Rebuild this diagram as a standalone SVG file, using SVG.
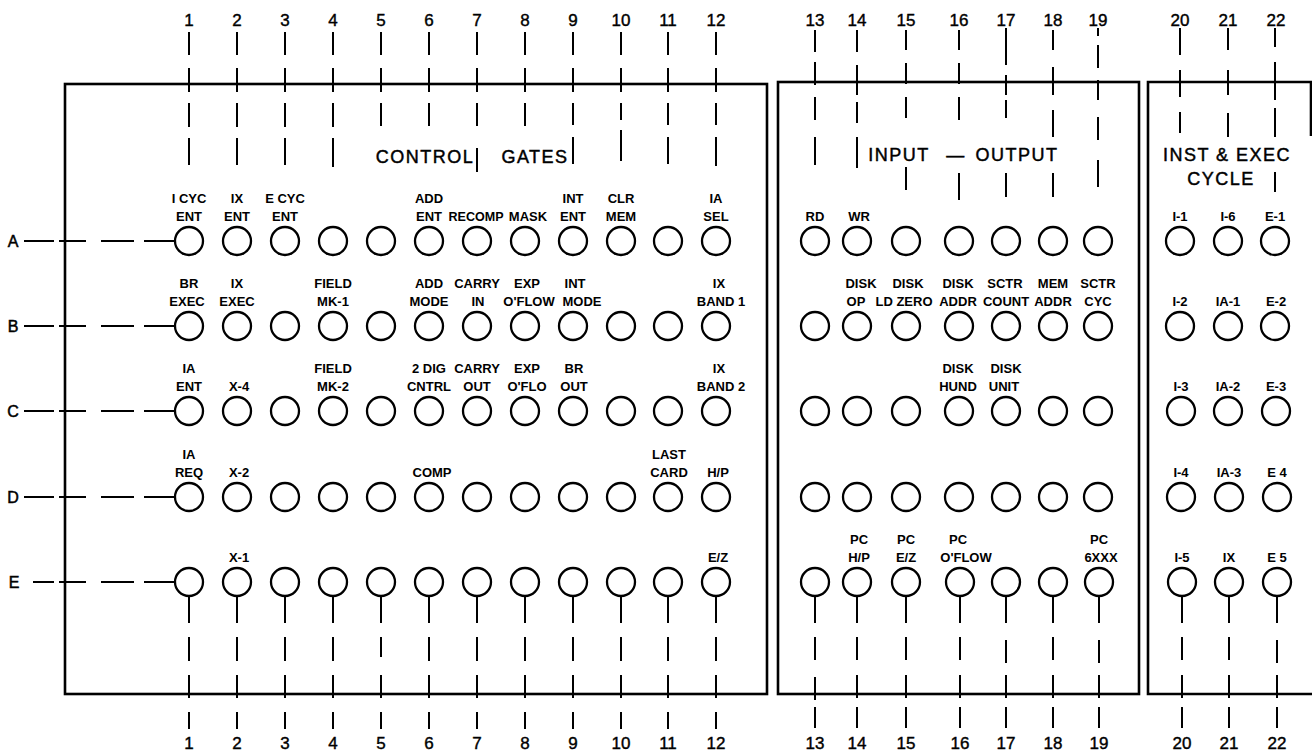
<svg xmlns="http://www.w3.org/2000/svg" width="1312" height="753" viewBox="0 0 1312 753">
<style>
  .bg{fill:#fff}
  circle{fill:#fff;stroke:#000;stroke-width:2.3}
  text{font-family:"Liberation Sans",Arial,sans-serif;fill:#000;text-anchor:middle}
  .lbl{font-size:13px;font-weight:bold}
  .num{font-size:17px;stroke:#000;stroke-width:0.4}
  .row{font-size:16px;stroke:#000;stroke-width:0.5}
  .ttl{font-size:18px;letter-spacing:1.5px;stroke:#000;stroke-width:0.45}
  .ln{stroke:#000;stroke-width:2;fill:none}
  .bd{stroke:#000;stroke-width:2.6;fill:none}
</style>
<rect class="bg" x="0" y="0" width="1312" height="753"/>

<g id="panels">
  <rect class="bd" x="65" y="84" width="702" height="610"/>
  <rect class="bd" x="778" y="82" width="361" height="612"/>
  <path class="bd" d="M1312 82H1148V694H1312M1311 82V136"/>
</g>

<g id="titles">
  <text class="ttl" x="425" y="163">CONTROL</text>
  <text class="ttl" x="535" y="163">GATES</text>
  <text class="ttl" x="899" y="161">INPUT</text>
  <text class="ttl" x="956" y="161">—</text>
  <text class="ttl" x="1017" y="161">OUTPUT</text>
  <text class="ttl" x="1227" y="161">INST &amp; EXEC</text>
  <text class="ttl" x="1221" y="185">CYCLE</text>
</g>

<g id="connectors" class="ln">
  <path d="M24 241H54M59 241H86M101 241H134M144 241H175"/>
  <path d="M24 326H54M59 326H86M101 326H134M144 326H175"/>
  <path d="M24 411H54M59 411H86M101 411H134M144 411H175"/>
  <path d="M24 497H54M59 497H86M101 497H134M144 497H175"/>
  <path d="M33 582H54M59 582H86M101 582H134M144 582H175"/>
  <path d="M189 32V55M189 68V92M189 103V127M189 138V165"/>
  <path d="M237 32V55M237 68V92M237 103V127M237 138V165"/>
  <path d="M285 32V55M285 68V92M285 103V127M285 138V165"/>
  <path d="M333 32V55M333 68V92M333 103V127M333 138V167"/>
  <path d="M381 32V55M381 68V92M381 103V126"/>
  <path d="M429 32V55M429 68V92M429 103V126"/>
  <path d="M477 32V55M477 68V92M477 103V126M477 148V172"/>
  <path d="M525 32V55M525 68V92M525 103V126"/>
  <path d="M573 32V55M573 68V92M573 103V125M573 137V164"/>
  <path d="M621 32V55M621 68V92M621 103V120M621 130V161"/>
  <path d="M668 32V55M668 68V92M668 103V125M668 137V164"/>
  <path d="M716 32V55M716 68V92M716 103V125M716 137V166"/>
  <path d="M815 30V52M815 62V85M815 97V120M815 137V165"/>
  <path d="M857 30V52M857 65V95M857 102V123M857 137V168"/>
  <path d="M906 30V50M906 63V84M906 97V118M906 167V190"/>
  <path d="M959 30V50M959 63V84M959 97V120M959 173V200"/>
  <path d="M1006 28V65M1006 75V95M1006 100V118M1006 173V197"/>
  <path d="M1053 30V50M1053 67V95M1053 110V137M1053 173V197"/>
  <path d="M1098 28V36M1098 45V68M1098 80V100M1098 117V140M1098 160V187"/>
  <path d="M1180 28V55M1180 70V97M1180 112V133"/>
  <path d="M1228 28V50M1228 70V95M1228 113V137"/>
  <path d="M1275 28V47M1275 62V100M1275 108V137M1275 172V192"/>
  <path d="M189 596V623M189 637V661M189 675V698M189 712V729"/>
  <path d="M237 596V623M237 637V661M237 675V698M237 712V729"/>
  <path d="M285 596V623M285 637V661M285 675V698M285 712V729"/>
  <path d="M333 596V623M333 637V661M333 675V698M333 712V729"/>
  <path d="M381 596V623M381 637V657M381 675V698M381 712V729"/>
  <path d="M429 596V623M429 637V661M429 675V698M429 712V729"/>
  <path d="M477 596V623M477 637V661M477 675V698M477 712V729"/>
  <path d="M525 596V623M525 637V661M525 675V698M525 712V729"/>
  <path d="M573 596V623M573 637V661M573 675V698M573 712V729"/>
  <path d="M621 596V623M621 637V661M621 675V698M621 712V729"/>
  <path d="M668 596V623M668 637V661M668 675V698M668 712V729"/>
  <path d="M716 596V623M716 637V661M716 675V698M716 712V729"/>
  <path d="M815 596V623M815 637V660M815 677V700M815 707V728"/>
  <path d="M857 596V623M857 637V660M857 675V698M857 707V728"/>
  <path d="M906 596V623M906 637V660M906 675V698M906 707V728"/>
  <path d="M960 596V623M960 637V660M960 675V698M960 707V728"/>
  <path d="M1006 596V623M1006 640V663M1006 675V698M1006 707V728"/>
  <path d="M1053 596V623M1053 637V660M1053 675V698M1053 707V728"/>
  <path d="M1099 596V623M1099 640V663M1099 675V698M1099 707V728"/>
  <path d="M1182 596V623M1182 637V660M1182 675V698M1182 707V728"/>
  <path d="M1229 596V623M1229 637V660M1229 675V698M1229 707V728"/>
  <path d="M1277 596V623M1277 640V663M1277 675V698M1277 707V728"/>
</g>

<g id="row-letters" class="row">
  <text x="13" y="247">A</text>
  <text x="13" y="332">B</text>
  <text x="13" y="417">C</text>
  <text x="13" y="503">D</text>
  <text x="14" y="588">E</text>
</g>

<g id="col-numbers-top" class="num">
  <text x="189" y="26">1</text><text x="237" y="26">2</text><text x="285" y="26">3</text>
  <text x="333" y="26">4</text><text x="381" y="26">5</text><text x="429" y="26">6</text>
  <text x="477" y="26">7</text><text x="525" y="26">8</text><text x="573" y="26">9</text>
  <text x="621" y="26">10</text><text x="668" y="26">11</text><text x="716" y="26">12</text>
  <text x="815" y="26">13</text><text x="857" y="26">14</text><text x="906" y="26">15</text>
  <text x="959" y="26">16</text><text x="1006" y="26">17</text><text x="1053" y="26">18</text>
  <text x="1098" y="26">19</text><text x="1180" y="26">20</text><text x="1228" y="26">21</text>
  <text x="1276" y="26">22</text>
</g>
<g id="col-numbers-bottom" class="num">
  <text x="189" y="749">1</text><text x="237" y="749">2</text><text x="285" y="749">3</text>
  <text x="333" y="749">4</text><text x="381" y="749">5</text><text x="429" y="749">6</text>
  <text x="477" y="749">7</text><text x="525" y="749">8</text><text x="573" y="749">9</text>
  <text x="621" y="749">10</text><text x="668" y="749">11</text><text x="716" y="749">12</text>
  <text x="815" y="749">13</text><text x="857" y="749">14</text><text x="906" y="749">15</text>
  <text x="960" y="749">16</text><text x="1006" y="749">17</text><text x="1053" y="749">18</text>
  <text x="1099" y="749">19</text><text x="1182" y="749">20</text><text x="1229" y="749">21</text>
  <text x="1277" y="749">22</text>
</g>

<g id="hubs" class="lbl">
  <g id="A1"><circle cx="189" cy="241" r="14"/><text x="189" y="203">I CYC</text><text x="189" y="221">ENT</text></g>
  <g id="A2"><circle cx="237" cy="241" r="14"/><text x="237" y="203">IX</text><text x="237" y="221">ENT</text></g>
  <g id="A3"><circle cx="285" cy="241" r="14"/><text x="285" y="203">E CYC</text><text x="285" y="221">ENT</text></g>
  <g id="A4"><circle cx="333" cy="241" r="14"/></g>
  <g id="A5"><circle cx="381" cy="241" r="14"/></g>
  <g id="A6"><circle cx="429" cy="241" r="14"/><text x="429" y="203">ADD</text><text x="429" y="221">ENT</text></g>
  <g id="A7"><circle cx="477" cy="241" r="14"/><text x="476" y="221" textLength="55" lengthAdjust="spacingAndGlyphs">RECOMP</text></g>
  <g id="A8"><circle cx="525" cy="241" r="14"/><text x="528" y="221">MASK</text></g>
  <g id="A9"><circle cx="573" cy="241" r="14"/><text x="573" y="203">INT</text><text x="573" y="221">ENT</text></g>
  <g id="A10"><circle cx="621" cy="241" r="14"/><text x="621" y="203">CLR</text><text x="621" y="221">MEM</text></g>
  <g id="A11"><circle cx="668" cy="241" r="14"/></g>
  <g id="A12"><circle cx="716" cy="241" r="14"/><text x="716" y="203">IA</text><text x="716" y="221">SEL</text></g>
  <g id="A13"><circle cx="815" cy="241" r="14"/><text x="815" y="221">RD</text></g>
  <g id="A14"><circle cx="857" cy="241" r="14"/><text x="859" y="221">WR</text></g>
  <g id="A15"><circle cx="906" cy="241" r="14"/></g>
  <g id="A16"><circle cx="959" cy="241" r="14"/></g>
  <g id="A17"><circle cx="1006" cy="241" r="14"/></g>
  <g id="A18"><circle cx="1053" cy="241" r="14"/></g>
  <g id="A19"><circle cx="1098" cy="241" r="14"/></g>
  <g id="A20"><circle cx="1180" cy="241" r="14"/><text x="1180" y="221">I-1</text></g>
  <g id="A21"><circle cx="1228" cy="241" r="14"/><text x="1228" y="221">I-6</text></g>
  <g id="A22"><circle cx="1275" cy="241" r="14"/><text x="1275" y="221">E-1</text></g>
  <g id="B1"><circle cx="189" cy="326" r="14"/><text x="189" y="288">BR</text><text x="187" y="306">EXEC</text></g>
  <g id="B2"><circle cx="237" cy="326" r="14"/><text x="237" y="288">IX</text><text x="237" y="306">EXEC</text></g>
  <g id="B3"><circle cx="285" cy="326" r="14"/></g>
  <g id="B4"><circle cx="333" cy="326" r="14"/><text x="333" y="288">FIELD</text><text x="333" y="306">MK-1</text></g>
  <g id="B5"><circle cx="381" cy="326" r="14"/></g>
  <g id="B6"><circle cx="429" cy="326" r="14"/><text x="429" y="288">ADD</text><text x="429" y="306">MODE</text></g>
  <g id="B7"><circle cx="477" cy="326" r="14"/><text x="477" y="288">CARRY</text><text x="478" y="306">IN</text></g>
  <g id="B8"><circle cx="525" cy="326" r="14"/><text x="527" y="288">EXP</text><text x="529" y="306">O'FLOW</text></g>
  <g id="B9"><circle cx="573" cy="326" r="14"/><text x="575" y="288">INT</text><text x="582" y="306">MODE</text></g>
  <g id="B10"><circle cx="621" cy="326" r="14"/></g>
  <g id="B11"><circle cx="668" cy="326" r="14"/></g>
  <g id="B12"><circle cx="716" cy="326" r="14"/><text x="719" y="288">IX</text><text x="721" y="306">BAND 1</text></g>
  <g id="B13"><circle cx="815" cy="326" r="14"/></g>
  <g id="B14"><circle cx="857" cy="326" r="14"/><text x="861" y="288">DISK</text><text x="856" y="306">OP</text></g>
  <g id="B15"><circle cx="906" cy="326" r="14"/><text x="908" y="288">DISK</text><text x="904" y="306">LD ZERO</text></g>
  <g id="B16"><circle cx="959" cy="326" r="14"/><text x="958" y="288">DISK</text><text x="958" y="306">ADDR</text></g>
  <g id="B17"><circle cx="1006" cy="326" r="14"/><text x="1005" y="288">SCTR</text><text x="1006" y="306">COUNT</text></g>
  <g id="B18"><circle cx="1053" cy="326" r="14"/><text x="1053" y="288">MEM</text><text x="1053" y="306">ADDR</text></g>
  <g id="B19"><circle cx="1098" cy="326" r="14"/><text x="1098" y="288">SCTR</text><text x="1098" y="306">CYC</text></g>
  <g id="B20"><circle cx="1180" cy="326" r="14"/><text x="1180" y="306">I-2</text></g>
  <g id="B21"><circle cx="1228" cy="326" r="14"/><text x="1228" y="306">IA-1</text></g>
  <g id="B22"><circle cx="1275" cy="326" r="14"/><text x="1276" y="306">E-2</text></g>
  <g id="C1"><circle cx="189" cy="411" r="14"/><text x="189" y="373">IA</text><text x="189" y="391">ENT</text></g>
  <g id="C2"><circle cx="237" cy="411" r="14"/><text x="239" y="391">X-4</text></g>
  <g id="C3"><circle cx="285" cy="411" r="14"/></g>
  <g id="C4"><circle cx="333" cy="411" r="14"/><text x="333" y="373">FIELD</text><text x="333" y="391">MK-2</text></g>
  <g id="C5"><circle cx="381" cy="411" r="14"/></g>
  <g id="C6"><circle cx="429" cy="411" r="14"/><text x="429" y="373">2 DIG</text><text x="429" y="391">CNTRL</text></g>
  <g id="C7"><circle cx="477" cy="411" r="14"/><text x="477" y="373">CARRY</text><text x="477" y="391">OUT</text></g>
  <g id="C8"><circle cx="525" cy="411" r="14"/><text x="527" y="373">EXP</text><text x="527" y="391">O'FLO</text></g>
  <g id="C9"><circle cx="573" cy="411" r="14"/><text x="574" y="373">BR</text><text x="574" y="391">OUT</text></g>
  <g id="C10"><circle cx="621" cy="411" r="14"/></g>
  <g id="C11"><circle cx="668" cy="411" r="14"/></g>
  <g id="C12"><circle cx="716" cy="411" r="14"/><text x="719" y="373">IX</text><text x="721" y="391">BAND 2</text></g>
  <g id="C13"><circle cx="815" cy="411" r="14"/></g>
  <g id="C14"><circle cx="857" cy="411" r="14"/></g>
  <g id="C15"><circle cx="906" cy="411" r="14"/></g>
  <g id="C16"><circle cx="959" cy="411" r="14"/><text x="958" y="373">DISK</text><text x="958" y="391">HUND</text></g>
  <g id="C17"><circle cx="1006" cy="411" r="14"/><text x="1006" y="373">DISK</text><text x="1004" y="391">UNIT</text></g>
  <g id="C18"><circle cx="1053" cy="411" r="14"/></g>
  <g id="C19"><circle cx="1098" cy="411" r="14"/></g>
  <g id="C20"><circle cx="1181" cy="411" r="14"/><text x="1181" y="391">I-3</text></g>
  <g id="C21"><circle cx="1228" cy="411" r="14"/><text x="1228" y="391">IA-2</text></g>
  <g id="C22"><circle cx="1276" cy="411" r="14"/><text x="1276" y="391">E-3</text></g>
  <g id="D1"><circle cx="189" cy="497" r="14"/><text x="189" y="459">IA</text><text x="189" y="477">REQ</text></g>
  <g id="D2"><circle cx="237" cy="497" r="14"/><text x="239" y="477">X-2</text></g>
  <g id="D3"><circle cx="285" cy="497" r="14"/></g>
  <g id="D4"><circle cx="333" cy="497" r="14"/></g>
  <g id="D5"><circle cx="381" cy="497" r="14"/></g>
  <g id="D6"><circle cx="429" cy="497" r="14"/><text x="432" y="477">COMP</text></g>
  <g id="D7"><circle cx="477" cy="497" r="14"/></g>
  <g id="D8"><circle cx="525" cy="497" r="14"/></g>
  <g id="D9"><circle cx="573" cy="497" r="14"/></g>
  <g id="D10"><circle cx="621" cy="497" r="14"/></g>
  <g id="D11"><circle cx="668" cy="497" r="14"/><text x="669" y="459">LAST</text><text x="669" y="477">CARD</text></g>
  <g id="D12"><circle cx="716" cy="497" r="14"/><text x="718" y="477">H/P</text></g>
  <g id="D13"><circle cx="815" cy="497" r="14"/></g>
  <g id="D14"><circle cx="857" cy="497" r="14"/></g>
  <g id="D15"><circle cx="906" cy="497" r="14"/></g>
  <g id="D16"><circle cx="959" cy="497" r="14"/></g>
  <g id="D17"><circle cx="1006" cy="497" r="14"/></g>
  <g id="D18"><circle cx="1053" cy="497" r="14"/></g>
  <g id="D19"><circle cx="1098" cy="497" r="14"/></g>
  <g id="D20"><circle cx="1181" cy="497" r="14"/><text x="1181" y="477">I-4</text></g>
  <g id="D21"><circle cx="1229" cy="497" r="14"/><text x="1229" y="477">IA-3</text></g>
  <g id="D22"><circle cx="1277" cy="497" r="14"/><text x="1277" y="477">E 4</text></g>
  <g id="E1"><circle cx="189" cy="582" r="14"/></g>
  <g id="E2"><circle cx="237" cy="582" r="14"/><text x="239" y="562">X-1</text></g>
  <g id="E3"><circle cx="285" cy="582" r="14"/></g>
  <g id="E4"><circle cx="333" cy="582" r="14"/></g>
  <g id="E5"><circle cx="381" cy="582" r="14"/></g>
  <g id="E6"><circle cx="429" cy="582" r="14"/></g>
  <g id="E7"><circle cx="477" cy="582" r="14"/></g>
  <g id="E8"><circle cx="525" cy="582" r="14"/></g>
  <g id="E9"><circle cx="573" cy="582" r="14"/></g>
  <g id="E10"><circle cx="621" cy="582" r="14"/></g>
  <g id="E11"><circle cx="668" cy="582" r="14"/></g>
  <g id="E12"><circle cx="716" cy="582" r="14"/><text x="718" y="562">E/Z</text></g>
  <g id="E13"><circle cx="815" cy="582" r="14"/></g>
  <g id="E14"><circle cx="857" cy="582" r="14"/><text x="859" y="544">PC</text><text x="859" y="562">H/P</text></g>
  <g id="E15"><circle cx="906" cy="582" r="14"/><text x="906" y="544">PC</text><text x="906" y="562">E/Z</text></g>
  <g id="E16"><circle cx="960" cy="582" r="14"/><text x="958" y="544">PC</text><text x="966" y="562">O'FLOW</text></g>
  <g id="E17"><circle cx="1006" cy="582" r="14"/></g>
  <g id="E18"><circle cx="1053" cy="582" r="14"/></g>
  <g id="E19"><circle cx="1099" cy="582" r="14"/><text x="1099" y="544">PC</text><text x="1101" y="562">6XXX</text></g>
  <g id="E20"><circle cx="1182" cy="582" r="14"/><text x="1182" y="562">I-5</text></g>
  <g id="E21"><circle cx="1229" cy="582" r="14"/><text x="1229" y="562">IX</text></g>
  <g id="E22"><circle cx="1277" cy="582" r="14"/><text x="1277" y="562">E 5</text></g>
</g>
</svg>
